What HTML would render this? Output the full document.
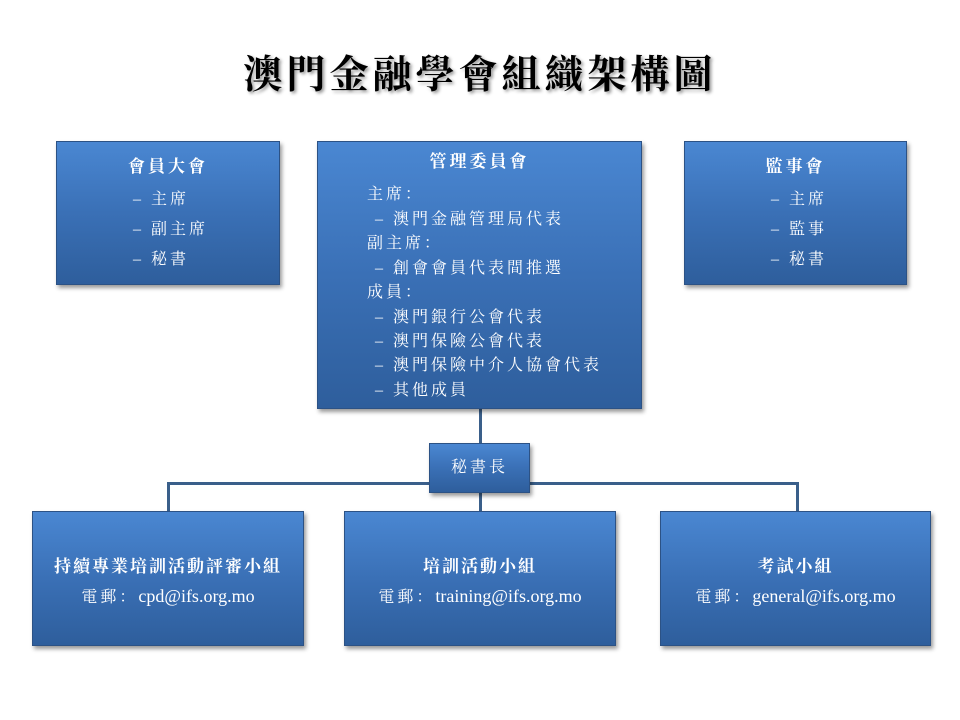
<!DOCTYPE html>
<html><head><meta charset="utf-8"><style>
body{margin:0;width:960px;height:720px;background:#fff;position:relative;overflow:hidden;font-family:"Liberation Serif","Noto Serif CJK SC",serif;}
.b{position:absolute;background:linear-gradient(#4a87d2,#3a70b6 50%,#2e5e9c);border:1px solid #2c5285;box-shadow:2px 3px 4px rgba(0,0,0,.4);color:#fff;box-sizing:border-box;}
.t{position:absolute;color:#fff;font-size:16px;letter-spacing:3px;white-space:nowrap;line-height:20px;}
.c{left:0;right:0;text-align:center;}
.h{font-weight:bold;font-size:17px;}
.l{position:absolute;background:#3a5f8a;}
.e{letter-spacing:0;font-size:18px;}
</style></head><body>
<div style="position:absolute;left:0;right:0;top:44px;text-align:center;font-size:39px;font-weight:bold;letter-spacing:4px;text-shadow:2px 2px 3px #999;">澳門金融學會組織架構圖</div>

<div class="l" style="left:479px;top:409px;width:3px;height:102px"></div>
<div class="l" style="left:167px;top:482px;width:632px;height:3px"></div>
<div class="l" style="left:167px;top:482px;width:3px;height:30px"></div>
<div class="l" style="left:796px;top:482px;width:3px;height:30px"></div>

<div class="b" style="left:56px;top:141px;width:224px;height:144px">
<div class="t c h" style="top:15px">會員大會</div>
<div class="t" style="left:76px;top:48px">– 主席</div>
<div class="t" style="left:76px;top:78px">– 副主席</div>
<div class="t" style="left:76px;top:108px">– 秘書</div>
</div>

<div class="b" style="left:317px;top:141px;width:325px;height:268px">
<div class="t c h" style="top:10px">管理委員會</div>
<div class="t" style="left:49px;top:43px">主席：</div>
<div class="t" style="left:57px;top:68px">– 澳門金融管理局代表</div>
<div class="t" style="left:49px;top:92px">副主席：</div>
<div class="t" style="left:57px;top:117px">– 創會會員代表間推選</div>
<div class="t" style="left:49px;top:141px">成員：</div>
<div class="t" style="left:57px;top:166px">– 澳門銀行公會代表</div>
<div class="t" style="left:57px;top:190px">– 澳門保險公會代表</div>
<div class="t" style="left:57px;top:214px">– 澳門保險中介人協會代表</div>
<div class="t" style="left:57px;top:239px">– 其他成員</div>
</div>

<div class="b" style="left:684px;top:141px;width:223px;height:144px">
<div class="t c h" style="top:15px">監事會</div>
<div class="t" style="left:86px;top:48px">– 主席</div>
<div class="t" style="left:86px;top:78px">– 監事</div>
<div class="t" style="left:86px;top:108px">– 秘書</div>
</div>

<div class="b" style="left:429px;top:443px;width:101px;height:50px">
<div class="t c" style="top:14px">秘書長</div>
</div>

<div class="b" style="left:32px;top:511px;width:272px;height:135px">
<div class="t c h" style="top:45px;letter-spacing:2px">持續專業培訓活動評審小組</div>
<div class="t c" style="top:74px">電郵：<span class="e">cpd@ifs.org.mo</span></div>
</div>
<div class="b" style="left:344px;top:511px;width:272px;height:135px">
<div class="t c h" style="top:45px;letter-spacing:2px">培訓活動小組</div>
<div class="t c" style="top:74px">電郵：<span class="e">training@ifs.org.mo</span></div>
</div>
<div class="b" style="left:660px;top:511px;width:271px;height:135px">
<div class="t c h" style="top:45px;letter-spacing:2px">考試小組</div>
<div class="t c" style="top:74px">電郵：<span class="e">general@ifs.org.mo</span></div>
</div>
</body></html>
